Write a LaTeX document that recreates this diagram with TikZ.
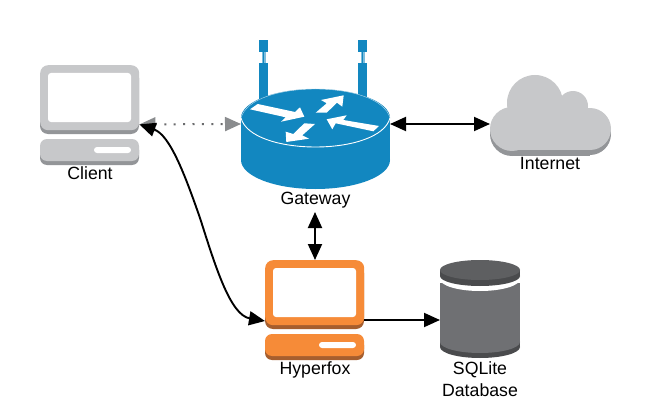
\documentclass[tikz,border=0pt]{standalone}
\usepackage{fontspec}
\setmainfont{Liberation Sans}
\usetikzlibrary{arrows.meta,shapes.geometric}
\definecolor{cgray}{HTML}{C7C8CA}
\definecolor{cgraydk}{HTML}{939598}
\definecolor{corange}{HTML}{F68B38}
\definecolor{corangedk}{HTML}{A65E2E}
\definecolor{cblue}{HTML}{1287C0}
\definecolor{dbbody}{HTML}{6F7073}
\definecolor{dbtop}{HTML}{5E5F61}
\definecolor{dbdark}{HTML}{4A4B4D}
\definecolor{tipgray}{HTML}{8A8C8E}
\definecolor{dotgray}{HTML}{6A6B6D}
\tikzset{
  x=1pt,y=-1pt,
  lbl/.style={font=\fontsize{17.7}{22}\selectfont,text=black,inner sep=0pt,align=center},
  link/.style={line width=1.9pt,black},
  both/.style={link,{Triangle[length=16pt,width=14pt]}-{Triangle[length=16pt,width=14pt]}},
  one/.style={link,-{Triangle[length=16pt,width=14pt]}},
  dots/.style={line width=2pt,dotgray,dash pattern=on 2pt off 7.4pt,{Triangle[length=16pt,width=14pt,color=tipgray]}-{Triangle[length=16pt,width=14pt,color=tipgray]}},
  screenbox/.style={inner sep=0pt,minimum width=99pt,minimum height=65pt,rounded corners=8pt,fill=#1},
  white arrow/.style={fill=white,draw=none},
}
\newcommand{\computer}[5]{%
  % #1,#2 top-left; #3 main colour; #4 lip colour; #5 node name
  \begin{scope}[shift={(#1,#2)}]
    \fill[#4,rounded corners=8pt] (0,5) rectangle (99,69);
    \node[screenbox=#3,anchor=north west] (#5) at (0,0) {};
    \fill[white,rounded corners=3pt] (8,8) rectangle (91,57);
    \fill[#4,rounded corners=7pt] (0,78) rectangle (99,100);
    \fill[#3,rounded corners=7pt] (0,74) rectangle (99,96);
    \fill[white,rounded corners=3pt] (54,82) rectangle (91,88);
  \end{scope}}
\begin{document}
\begin{tikzpicture}
\useasboundingbox (0,0) rectangle (651,420);
\fill[white] (0,0) rectangle (651,420);

% Client and Hyperfox
\computer{40}{65}{cgray}{cgraydk}{client}
\computer{265}{260}{corange}{corangedk}{hyperfox}

% Gateway antennas
\foreach \ax in {259,358}{
  \fill[cblue] (\ax,40) rectangle (\ax+9,52);
  \fill[cblue] (\ax,63) rectangle (\ax+9,100);
  \fill[cblue!55!white] (\ax+2.5,52) rectangle (\ax+6.5,63);
  \fill[cblue] (\ax+3.8,52) rectangle (\ax+5.2,63);
}
% Gateway body
\fill[cblue] (315.5,160) ellipse [x radius=74.5,y radius=29];
\fill[cblue] (241,118) rectangle (390,160);
\node[ellipse,inner sep=0pt,minimum width=149pt,minimum height=58pt,fill=cblue] (gateway) at (315.5,118) {};
\draw[white,line width=0.9pt] (241,118) .. controls (246,137) and (280,147) .. (315.5,147) .. controls (351,147) and (385,137) .. (390,118);
\draw[white!70!cblue,line width=0.4pt] (241,118) .. controls (246,99) and (280,89) .. (315.5,89) .. controls (351,89) and (385,99) .. (390,118);
% router arrows
\fill[white arrow] (250,109.3) -- (257.7,104) -- (295,112) -- (300,107.3) -- (304.3,116.7) -- (281,121.7) -- (285.7,117.3) -- cycle;
\fill[white arrow] (343.7,95.3) -- (321,100) -- (326.7,103.3) -- (315.7,112.7) -- (326.7,112.7) -- (337,102.7) -- (342.3,106.7) -- cycle;
\fill[white arrow] (326.7,119.3) -- (346.7,115.3) -- (343.3,120) -- (379,126) -- (373.3,131.3) -- (335.7,123.3) -- (332.3,129.3) -- cycle;
\fill[white arrow] (286.3,142) -- (285.7,131.7) -- (293.3,134) -- (304.3,123.3) -- (315,124) -- (302.3,135.3) -- (309,138.7) -- cycle;

% Internet cloud
\begin{scope}[shift={(0,5)}]
  \fill[cgraydk] (512,129) circle (22);
  \fill[cgraydk] (590,129) circle (21);
  \fill[cgraydk] (512,130) rectangle (590,151);
\end{scope}
\fill[cgray] (535,103) circle (28);
\fill[cgray] (573,106) circle (15);
\fill[cgray] (512,129) circle (22);
\fill[cgray] (590,129) circle (21);
\node[inner sep=0pt,minimum width=78pt,minimum height=40pt,fill=cgray] (internet) at (551,130) {};
\coordinate (netport) at (490,124);

% SQLite database
\fill[dbdark] (480,347) ellipse [x radius=40,y radius=11];
\fill[dbdark] (440,340) rectangle (520,347);
\fill[dbbody] (440,283) rectangle (520,342);
\fill[dbbody] (480,342) ellipse [x radius=40,y radius=11];
\fill[white] (480,279) ellipse [x radius=40,y radius=12];
\fill[dbdark] (480,276) ellipse [x radius=40,y radius=10];
\fill[dbdark] (440,270) rectangle (520,276);
\node[ellipse,inner sep=0pt,minimum width=80pt,minimum height=20pt,fill=dbtop] (db) at (480,270) {};
\coordinate (dbport) at (440,320);

% Labels
\node[lbl,anchor=base] (clientlbl) at (90,179) {Client};
\node[lbl,anchor=base] (gatewaylbl) at (315.5,204.5) {Gateway};
\node[lbl,anchor=base] (internetlbl) at (550,169) {Internet};
\node[lbl,anchor=base] (hyperfoxlbl) at (315,374.5) {Hyperfox};
\node[lbl] (dblbl) at (480,379) {SQLite\\Database};

% Connector ports
\coordinate (clientport) at ([yshift=6pt]client.south east);
\coordinate (gwleft) at (241,124);
\coordinate (gwright) at (390,124);
\coordinate (hfleft) at (265,321);
\coordinate (hfright) at (364,320);
\coordinate (gwbottom) at (315,212);

% Connectors
\draw[dots] (clientport) -- (gwleft);
\draw[both] (gwright) -- (netport);
\draw[both] (gwbottom) -- (hyperfox.north -| gwbottom);
\draw[one] (hfright) -- (dbport);
\draw[both] (clientport) .. controls (170,135) and (185,175) .. (200,218) .. controls (215,265) and (230,315) .. (hfleft);
\end{tikzpicture}
\end{document}
